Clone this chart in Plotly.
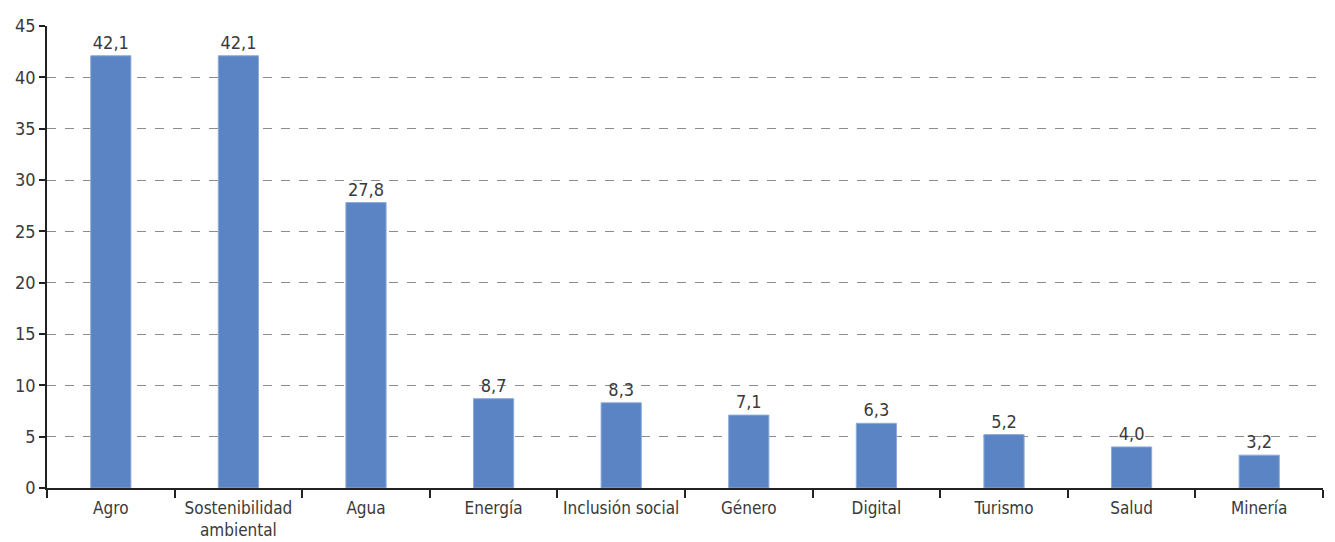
import plotly.graph_objects as go

categories = ["Agro", "Sostenibilidad<br>ambiental", "Agua", "Energía", "Inclusión social",
              "Género", "Digital", "Turismo", "Salud", "Minería"]
values = [42.1, 42.1, 27.8, 8.7, 8.3, 7.1, 6.3, 5.2, 4.0, 3.2]
value_labels = [f"{v:.1f}".replace(".", ",") for v in values]
y_ticks = [0, 5, 10, 15, 20, 25, 30, 35, 40, 45]

FONT = "Liberation Sans Narrow, DejaVu Sans Condensed, Arial Narrow, sans-serif"
TEXT_COLOR = "#3a3a3a"

fig = go.Figure(
    go.Bar(
        x=categories,
        y=values,
        text=value_labels,
        textposition="outside",
        textfont=dict(family=FONT, size=18, color=TEXT_COLOR),
        cliponaxis=False,
        marker=dict(color="#5B84C4", line=dict(color="#8eaad8", width=1)),
        hoverinfo="x+y",
    )
)

fig.update_layout(
    width=1335,
    height=542,
    margin=dict(l=47, r=12, t=26, b=54, autoexpand=False),
    paper_bgcolor="white",
    plot_bgcolor="white",
    bargap=0.685,
    showlegend=False,
    font=dict(family=FONT, size=18, color=TEXT_COLOR),
)

fig.update_xaxes(
    automargin=False,
    tickangle=0,
    showline=True,
    linecolor="#222222",
    linewidth=1.5,
    ticks="outside",
    tickson="boundaries",
    ticklen=8,
    tickcolor="#222222",
    tickwidth=1.5,
    showgrid=False,
    ticklabelstandoff=4,
    tickfont=dict(family=FONT, size=17, color=TEXT_COLOR),
)

fig.update_yaxes(
    automargin=False,
    range=[0, 45],
    tickvals=y_ticks,
    showline=True,
    linecolor="#222222",
    linewidth=1.5,
    ticks="outside",
    ticklen=6,
    tickcolor="#222222",
    tickwidth=1.5,
    showgrid=True,
    gridcolor="#8c8c8c",
    griddash="dash",
    gridwidth=1,
    zeroline=False,
    tickfont=dict(family=FONT, size=18, color=TEXT_COLOR),
)

fig.write_html("out.html")
